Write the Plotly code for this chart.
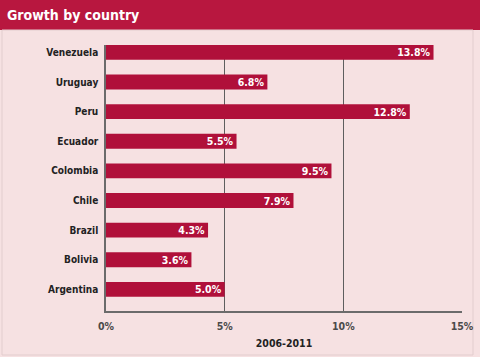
import plotly.graph_objects as go

countries = ["Argentina", "Bolivia", "Brazil", "Chile", "Colombia", "Ecuador", "Peru", "Uruguay", "Venezuela"]
growth = [5.0, 3.6, 4.3, 7.9, 9.5, 5.5, 12.8, 6.8, 13.8]
x_ticks = [0, 5, 10, 15]
x_tick_labels = ["0%", "5%", "10%", "15%"]

BAR = "#b0103a"
BG = "#f6e1e2"
FONT = "DejaVu Sans Condensed, Liberation Sans Narrow, Arial Narrow, sans-serif"

fig = go.Figure(go.Bar(
    x=growth, y=list(range(len(countries))), orientation="h",
    marker=dict(color=BAR, line=dict(width=0)), width=0.5,
    text=[f"{v:.1f}%" for v in growth], textposition="inside",
    insidetextanchor="end", constraintext="none",
    textfont=dict(color="white", size=10.5, family=FONT, weight="bold"),
    cliponaxis=False,
))

PH = 357 - 45 - 46

fig.update_layout(
    width=480, height=357,
    margin=dict(l=106, r=18, t=45, b=46, autoexpand=False),
    paper_bgcolor=BG, plot_bgcolor=BG,
    showlegend=False,
    font=dict(family=FONT, color="#222"),
    xaxis=dict(range=[0, 15], tickvals=x_ticks, ticktext=x_tick_labels,
               showgrid=True, gridcolor="#5e5e5e", gridwidth=1,
               showline=True, linecolor="#6b6b6b", linewidth=1.5,
               zeroline=False, ticks="outside", ticklen=5, tickcolor="rgba(0,0,0,0)",
               automargin=False,
               tickfont=dict(size=10.5, color="#4a4a4a", family=FONT, weight="bold"),
               title=dict(text="2006-2011", font=dict(size=10.5, color="#222", family=FONT, weight="bold"), standoff=8),
               fixedrange=True),
    yaxis=dict(range=[-0.73, 8.25], tickvals=list(range(len(countries))), ticktext=countries,
               showgrid=False, showline=True, linecolor="#6b6b6b", linewidth=1.5,
               zeroline=False, ticks="outside", ticklen=4, tickcolor="rgba(0,0,0,0)",
               automargin=False,
               tickfont=dict(size=10, color="#222", family=FONT, weight="bold"),
               fixedrange=True),
    shapes=[
        dict(type="rect", xref="paper", yref="paper", x0=-1, x1=2, y0=1 + 15 / PH, y1=1 + 50 / PH,
             fillcolor="#b8173f", line=dict(width=0), layer="below"),
        dict(type="rect", xref="paper", yref="paper", x0=-104 / 356, x1=1 + 11 / 356, y0=-44 / PH, y1=1 + 15 / PH,
             fillcolor="rgba(0,0,0,0)", line=dict(width=1, color="#e2cdce"), layer="below"),
    ],
    annotations=[
        dict(text="Growth by country", xref="paper", yref="paper", x=-101 / 356, y=1 + 30 / PH,
             xanchor="left", yanchor="middle", showarrow=False,
             font=dict(size=14, color="white", family=FONT, weight="bold")),
    ],
)

fig.write_html("out.html", config={"displayModeBar": False},
               post_script="document.body.style.margin='0';document.body.style.overflow='hidden';")
